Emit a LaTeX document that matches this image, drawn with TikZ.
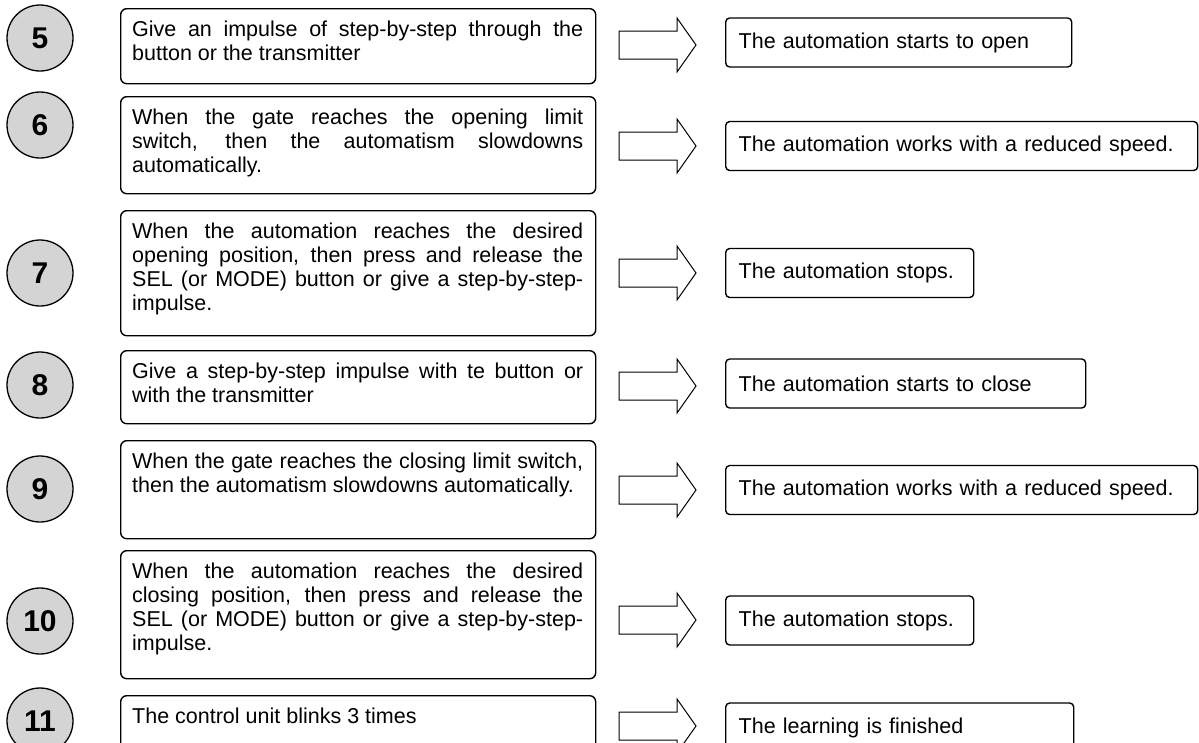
\documentclass[tikz,border=0pt]{standalone}
\usepackage{fontspec}
\setmainfont{Liberation Sans}
\usetikzlibrary{positioning}

\begin{document}
\begin{tikzpicture}[x=1pt, y=-1pt]
	\tikzstyle{every stepnum}=[circle, draw, line width=1.3pt, fill=black!17, minimum size=66pt, inner sep=0pt, font=\fontsize{30}{30}\selectfont\bfseries]
	\tikzstyle{frame}=[draw, line width=1.4pt, rounded corners=6pt, anchor=north west, minimum width=475pt, inner sep=0pt]
	\tikzstyle{action}=[anchor=north west, text width=451pt, align=justify, inner sep=0pt, font=\fontsize{21.5}{24}\selectfont, execute at begin node={\tolerance=10000\hyphenpenalty=10000}]
	\tikzstyle{result}=[draw, line width=1.4pt, rounded corners=4pt, anchor=west, minimum height=49pt, inner xsep=13pt, inner ysep=0pt, align=left, font=\fontsize{21.5}{24}\selectfont]
	\tikzstyle{hollow arrow}=[draw, line width=1pt, fill=white]
	
	\useasboundingbox (0,0) rectangle (1199,742);
	\clip (0,0) rectangle (1199,742);
	
	% Step numbers
	\node[every stepnum] (n5) at (40,38)  {5};
	\node[every stepnum] (n6) at (40,125) {6};
	\node[every stepnum] (n7) at (40,273) {7};
	\node[every stepnum] (n8) at (40,385) {8};
	\node[every stepnum] (n9) at (40,489) {9};
	\node[every stepnum] (n10) at (40,621) {10};
	\node[every stepnum] (n11) at (40,721) {11};
	
	% What to do
	\node[frame, minimum height=75pt]  (box5) at (120,8)   {};
	\node[frame, minimum height=97pt]  (box6) at (120,96)  {};
	\node[frame, minimum height=125pt] (box7) at (120,210) {};
	\node[frame, minimum height=73pt]  (box8) at (120,350) {};
	\node[frame, minimum height=98pt]  (box9) at (120,440) {};
	\node[frame, minimum height=128pt] (box10) at (120,550) {};
	\node[frame, minimum height=75pt]  (box11) at (120,695) {};
	
	\node[action] (txt5) at (132,21)  {Give an impulse of step-by-step through the\linebreak button or the transmitter};
	\node[action] (txt6) at (132,109) {When the gate reaches the opening limit\linebreak switch, then the automatism slowdowns\linebreak automatically.};
	\node[action] (txt7) at (132,223) {When the automation reaches the desired\linebreak opening position, then press and release the\linebreak SEL (or MODE) button or give a step-by-step-\linebreak impulse.};
	\node[action] (txt8) at (132,363) {Give a step-by-step impulse with te button or\linebreak with the transmitter};
	\node[action] (txt9) at (132,453) {When the gate reaches the closing limit switch,\linebreak then the automatism slowdowns automatically.};
	\node[action] (txt10) at (132,563) {When the automation reaches the desired\linebreak closing position, then press and release the\linebreak SEL (or MODE) button or give a step-by-step-\linebreak impulse.};
	\node[action] (txt11) at (132,708) {The control unit blinks 3 times};
	
	% Arrows in between
	\foreach \y in {45,146,273,386,490,620,726}
		\path[hollow arrow] (619,\y-14) -- (677,\y-14) -- (677,\y-27) -- (696,\y) -- (677,\y+27) -- (677,\y+14) -- (619,\y+14) -- cycle;
	
	% What happens
	\node[result, text width=320pt] (res5) at (725,42.5)  {The automation starts to open};
	\node[result, text width=446pt] (res6) at (725,146)   {The automation works with a reduced speed.};
	\node[result, text width=222pt] (res7) at (725,273)   {The automation stops.};
	\node[result, text width=334pt] (res8) at (725,383.5) {The automation starts to close};
	\node[result, text width=446pt] (res9) at (725,490)   {The automation works with a reduced speed.};
	\node[result, text width=222pt] (res10) at (725,620.5) {The automation stops.};
	\node[result, text width=322pt] (res11) at (725,727.5) {The learning is finished};
\end{tikzpicture}
\end{document}
